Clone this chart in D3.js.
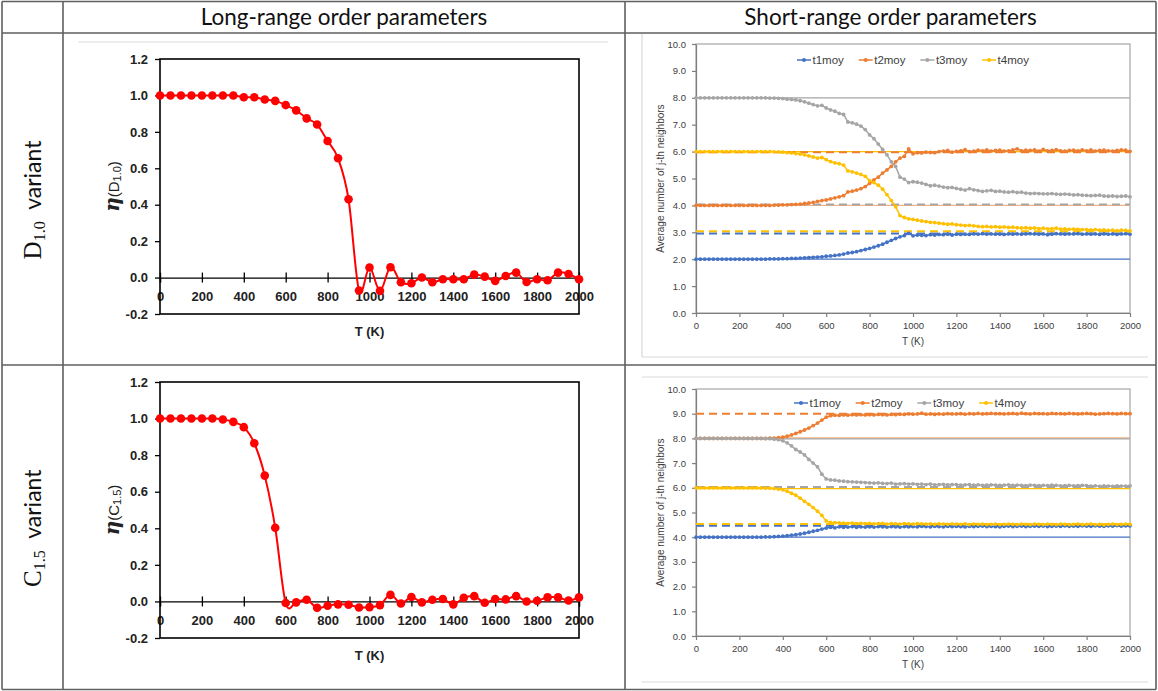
<!DOCTYPE html>
<html>
<head>
<meta charset="utf-8">
<script src="https://cdn.jsdelivr.net/npm/d3@7"></script>
<style>
  body { margin: 0; background: #fff; }
  svg { display: block; }
</style>
</head>
<body>
<svg id="svg"></svg>
<script>
// ---- data ----
const headers = ["Long-range order parameters", "Short-range order parameters"];
const rowLetters = ["D", "C"];
const rowSubs = ["1.0", "1.5"];

const etaTemps = [0, 50, 100, 150, 200, 250, 300, 350, 400, 450, 500, 550, 600, 650, 700, 750, 800, 850, 900, 950,
  1000, 1050, 1100, 1150, 1200, 1250, 1300, 1350, 1400, 1450, 1500, 1550, 1600, 1650, 1700, 1750, 1800, 1850, 1900, 1950, 2000];
const etaD10 = [1.0, 1.0, 1.0, 1.0, 1.0, 1.0, 1.0, 1.0, 0.99, 0.99, 0.978, 0.97, 0.947, 0.918, 0.874, 0.84, 0.75, 0.655, 0.43, -0.071,
  0.055, -0.073, 0.057, -0.026, -0.031, 0.0, -0.026, -0.009, -0.009, -0.009, 0.016, 0.005, -0.018, 0.009, 0.027, -0.024, -0.009, -0.015, 0.027, 0.02, -0.009];
const etaC15 = [1.0, 1.0, 1.0, 1.0, 1.0, 1.0, 0.995, 0.982, 0.953, 0.865, 0.688, 0.403, -0.009, -0.005, 0.009, -0.035, -0.024, -0.016, -0.018, -0.033,
  -0.031, -0.02, 0.036, -0.011, 0.024, -0.005, 0.009, 0.013, -0.016, 0.02, 0.029, -0.007, 0.013, 0.011, 0.029, 0.0, 0.004, 0.022, 0.022, 0.005, 0.022];
const etaTicks = [-0.2, 0, 0.2, 0.4, 0.6, 0.8, 1.0, 1.2];
const tempTicks = [0, 200, 400, 600, 800, 1000, 1200, 1400, 1600, 1800, 2000];

const nbTemps = [
  0, 20, 40, 60, 80, 100, 120, 140, 160, 180,
  200, 220, 240, 260, 280, 300, 320, 340, 360, 380,
  400, 420, 440, 460, 480, 500, 520, 540, 560, 580,
  600, 620, 640, 660, 680, 700, 720, 740, 760, 780,
  800, 820, 840, 860, 880, 900, 920, 940, 960, 980,
  1000, 1020, 1040, 1060, 1080, 1100, 1120, 1140, 1160, 1180,
  1200, 1220, 1240, 1260, 1280, 1300, 1320, 1340, 1360, 1380,
  1400, 1420, 1440, 1460, 1480, 1500, 1520, 1540, 1560, 1580,
  1600, 1620, 1640, 1660, 1680, 1700, 1720, 1740, 1760, 1780,
  1800, 1820, 1840, 1860, 1880, 1900, 1920, 1940, 1960, 1980,
  2000];
const seriesNames = ["t1moy", "t2moy", "t3moy", "t4moy"];

const d10T1 = [
  2.00, 2.00, 2.00, 2.00, 2.00, 2.00, 2.00, 2.00, 2.00, 2.00,
  2.00, 2.00, 2.00, 2.00, 2.00, 2.00, 2.00, 2.01, 2.01, 2.01,
  2.02, 2.02, 2.03, 2.03, 2.04, 2.05, 2.06, 2.07, 2.08, 2.09,
  2.11, 2.12, 2.14, 2.16, 2.19, 2.23, 2.25, 2.28, 2.32, 2.36,
  2.40, 2.45, 2.50, 2.56, 2.63, 2.70, 2.77, 2.83, 2.88, 2.96,
  2.87, 2.90, 2.89, 2.88, 2.91, 2.90, 2.92, 2.91, 2.93, 2.90,
  2.93, 2.92, 2.93, 2.92, 2.94, 2.93, 2.95, 2.93, 2.94, 2.93,
  2.93, 2.92, 2.94, 2.93, 2.94, 2.93, 2.94, 2.95, 2.94, 2.93,
  2.94, 2.91, 2.93, 2.95, 2.94, 2.93, 2.94, 2.94, 2.95, 2.93,
  2.94, 2.93, 2.94, 2.92, 2.94, 2.93, 2.94, 2.92, 2.94, 2.95,
  2.93];
const d10T2 = [
  4.00, 4.00, 4.00, 4.00, 4.00, 4.00, 4.00, 4.00, 4.00, 4.00,
  4.00, 4.00, 4.00, 4.00, 4.00, 4.00, 4.00, 4.00, 4.01, 4.01,
  4.02, 4.02, 4.03, 4.04, 4.05, 4.07, 4.09, 4.11, 4.15, 4.18,
  4.20, 4.24, 4.28, 4.32, 4.36, 4.50, 4.53, 4.57, 4.62, 4.70,
  4.82, 4.95, 5.05, 5.20, 5.32, 5.45, 5.62, 5.76, 5.82, 6.10,
  5.92, 5.96, 5.95, 5.98, 5.97, 5.96, 6.00, 6.02, 6.04, 5.98,
  6.01, 6.03, 6.07, 6.00, 6.02, 6.05, 6.03, 6.06, 6.02, 6.04,
  6.05, 6.02, 6.03, 6.06, 6.10, 6.03, 6.05, 6.04, 6.06, 6.02,
  6.08, 6.03, 6.04, 6.07, 6.03, 6.02, 6.04, 6.05, 6.03, 6.06,
  6.03, 6.06, 6.02, 6.04, 6.05, 6.03, 6.02, 6.04, 6.06, 6.05,
  6.01];
const d10T3 = [
  8.00, 8.00, 8.00, 8.00, 8.00, 8.00, 8.00, 8.00, 8.00, 8.00,
  8.00, 8.00, 8.00, 8.00, 8.00, 8.00, 8.00, 7.99, 7.99, 7.98,
  7.97, 7.95, 7.94, 7.92, 7.89, 7.85, 7.80, 7.75, 7.70, 7.72,
  7.62, 7.55, 7.50, 7.42, 7.38, 7.10, 7.07, 7.02, 6.95, 6.82,
  6.62, 6.48, 6.28, 6.08, 5.88, 5.62, 5.45, 5.05, 4.98, 4.85,
  4.88, 4.86, 4.83, 4.78, 4.73, 4.75, 4.72, 4.68, 4.66, 4.67,
  4.63, 4.60, 4.57, 4.62, 4.58, 4.55, 4.52, 4.54, 4.56, 4.52,
  4.53, 4.50, 4.49, 4.51, 4.48, 4.49, 4.46, 4.44, 4.45, 4.44,
  4.43, 4.43, 4.44, 4.42, 4.41, 4.42, 4.41, 4.39, 4.40, 4.38,
  4.37, 4.36, 4.37, 4.38, 4.35, 4.34, 4.35, 4.33, 4.34, 4.35,
  4.32];
const d10T4 = [
  6.00, 6.00, 6.00, 6.00, 6.00, 6.00, 6.00, 6.00, 6.00, 6.00,
  6.00, 6.00, 6.00, 6.00, 6.00, 6.00, 6.00, 6.00, 5.99, 5.99,
  5.98, 5.96, 5.95, 5.93, 5.91, 5.88, 5.84, 5.80, 5.76, 5.78,
  5.70, 5.63, 5.58, 5.55, 5.50, 5.28, 5.25, 5.20, 5.15, 5.08,
  4.92, 4.85, 4.75, 4.60, 4.40, 4.18, 3.95, 3.62, 3.55, 3.50,
  3.48, 3.45, 3.42, 3.40, 3.37, 3.36, 3.34, 3.32, 3.30, 3.31,
  3.28, 3.27, 3.25, 3.26, 3.24, 3.22, 3.21, 3.22, 3.20, 3.21,
  3.19, 3.20, 3.18, 3.19, 3.17, 3.16, 3.17, 3.15, 3.16, 3.14,
  3.15, 3.13, 3.14, 3.15, 3.12, 3.13, 3.11, 3.12, 3.11, 3.10,
  3.10, 3.09, 3.10, 3.08, 3.09, 3.07, 3.08, 3.06, 3.08, 3.07,
  3.05];

const c15T1 = [
  4.00, 4.00, 4.00, 4.00, 4.00, 4.00, 4.00, 4.00, 4.00, 4.00,
  4.00, 4.00, 4.00, 4.00, 4.00, 4.00, 4.01, 4.01, 4.02, 4.03,
  4.04, 4.06, 4.08, 4.10, 4.13, 4.16, 4.20, 4.24, 4.28, 4.33,
  4.37, 4.40, 4.38, 4.42, 4.40, 4.41, 4.43, 4.40, 4.42, 4.41,
  4.42, 4.41, 4.43, 4.42, 4.41, 4.43, 4.42, 4.41, 4.43, 4.42,
  4.43, 4.42, 4.44, 4.43, 4.42, 4.44, 4.43, 4.42, 4.44, 4.43,
  4.44, 4.43, 4.42, 4.44, 4.43, 4.44, 4.45, 4.43, 4.44, 4.43,
  4.42, 4.44, 4.45, 4.43, 4.44, 4.45, 4.43, 4.44, 4.45, 4.44,
  4.45, 4.43, 4.44, 4.45, 4.44, 4.46, 4.44, 4.45, 4.44, 4.46,
  4.45, 4.44, 4.46, 4.45, 4.44, 4.46, 4.45, 4.47, 4.45, 4.46,
  4.46];
const c15T2 = [
  8.00, 8.00, 8.00, 8.00, 8.00, 8.00, 8.00, 8.00, 8.00, 8.00,
  8.00, 8.00, 8.00, 8.00, 8.00, 8.00, 8.00, 8.01, 8.01, 8.03,
  8.05, 8.09, 8.14, 8.20, 8.27, 8.34, 8.42, 8.52, 8.62, 8.74,
  8.86, 8.92, 8.94, 8.93, 8.95, 8.94, 8.96, 8.95, 8.96, 8.95,
  8.96, 8.95, 8.97, 8.96, 8.95, 8.97, 8.96, 8.98, 8.97, 8.99,
  8.98, 8.99, 9.02, 8.98, 8.99, 8.97, 8.99, 8.98, 9.00, 8.99,
  8.99, 9.00, 8.98, 9.00, 8.99, 9.01, 8.99, 9.00, 9.01, 9.00,
  9.00, 8.99, 9.00, 9.01, 8.99, 9.02, 9.00, 8.99, 9.01, 9.00,
  9.00, 8.99, 9.01, 9.00, 9.00, 8.99, 9.01, 9.00, 8.99, 9.00,
  9.01, 9.00, 8.98, 8.99, 9.00, 9.01, 9.00, 8.99, 9.01, 9.00,
  9.00];
const c15T3 = [
  8.00, 8.00, 8.00, 8.00, 8.00, 8.00, 8.00, 8.00, 8.00, 8.00,
  8.00, 8.00, 8.00, 8.00, 8.00, 8.00, 7.99, 7.99, 7.97, 7.95,
  7.90, 7.82, 7.70, 7.55, 7.45, 7.33, 7.15, 7.00, 6.85, 6.55,
  6.36, 6.32, 6.31, 6.28, 6.27, 6.25, 6.24, 6.23, 6.22, 6.21,
  6.20, 6.19, 6.20, 6.18, 6.17, 6.19, 6.15, 6.16, 6.17, 6.15,
  6.16, 6.14, 6.15, 6.13, 6.15, 6.12, 6.13, 6.14, 6.12, 6.13,
  6.13, 6.11, 6.12, 6.13, 6.11, 6.12, 6.10, 6.11, 6.12, 6.11,
  6.10, 6.11, 6.12, 6.10, 6.11, 6.10, 6.09, 6.11, 6.10, 6.09,
  6.10, 6.09, 6.11, 6.10, 6.08, 6.09, 6.10, 6.08, 6.09, 6.10,
  6.09, 6.07, 6.08, 6.06, 6.08, 6.07, 6.06, 6.08, 6.07, 6.07,
  6.08];
const c15T4 = [
  6.00, 6.00, 6.00, 6.00, 6.00, 6.00, 6.00, 6.00, 6.00, 6.00,
  6.00, 6.00, 6.00, 6.00, 6.00, 6.00, 5.99, 5.99, 5.97, 5.95,
  5.92, 5.86, 5.78, 5.70, 5.58, 5.45, 5.33, 5.20, 5.05, 4.88,
  4.66, 4.60, 4.59, 4.58, 4.57, 4.56, 4.57, 4.55, 4.56, 4.55,
  4.56, 4.54, 4.55, 4.56, 4.53, 4.55, 4.54, 4.53, 4.55, 4.54,
  4.53, 4.55, 4.54, 4.53, 4.54, 4.52, 4.54, 4.53, 4.52, 4.54,
  4.53, 4.52, 4.54, 4.51, 4.53, 4.52, 4.53, 4.51, 4.52, 4.53,
  4.51, 4.52, 4.53, 4.52, 4.51, 4.53, 4.52, 4.51, 4.53, 4.52,
  4.51, 4.53, 4.52, 4.51, 4.53, 4.52, 4.51, 4.52, 4.53, 4.51,
  4.52, 4.53, 4.51, 4.52, 4.50, 4.52, 4.53, 4.51, 4.52, 4.53,
  4.52];

// reference levels, one per series (t1..t4)
const d10Solid = [2.0, 4.0, 8.0, 6.0];
const d10Dashed = [2.96, 5.98, 4.03, 3.04];
const c15Solid = [4.0, 8.02, 7.98, 5.97];
const c15Dashed = [4.46, 9.0, 6.03, 4.53];
const nbTicks = [0, 1, 2, 3, 4, 5, 6, 7, 8, 9, 10];

// ---- drawing ----
const W = 1158, H = 691;
const svg = d3.select("#svg").attr("width", W).attr("height", H);
svg.append("rect").attr("width", W).attr("height", H).attr("fill", "#fff");

const colors = ["#4472C4", "#ED7D31", "#A5A5A5", "#FFC000"];
const solidColors = ["#4472C4", "#F4B183", "#A5A5A5", "#FFC000"];
const sans = "Liberation Sans, Arial, sans-serif";

function drawTable() {
  const g = svg.append("g").attr("stroke", "#5f5f5f").attr("stroke-width", 1.6);
  const xs = [2, 63, 625, 1156];
  const ys = [1.5, 33, 365, 689.5];
  xs.forEach(x => {
    g.append("line").attr("x1", x).attr("x2", x).attr("y1", ys[0]).attr("y2", ys[3]);
  });
  ys.forEach(y => {
    g.append("line").attr("x1", xs[0]).attr("x2", xs[3]).attr("y1", y).attr("y2", y);
  });

  headers.forEach((h, i) => {
    svg.append("text")
      .attr("x", (xs[i + 1] + xs[i + 2]) / 2)
      .attr("y", 24.5)
      .attr("text-anchor", "middle")
      .attr("font-family", "Lato, sans-serif")
      .attr("font-size", 22.5)
      .attr("fill", "#111")
      .text(h);
  });

  rowLetters.forEach((l, i) => {
    const cy = (ys[i + 1] + ys[i + 2]) / 2 + 1;
    const t = svg.append("text")
      .attr("transform", `translate(41,${cy}) rotate(-90)`)
      .attr("text-anchor", "middle")
      .attr("fill", "#111");
    t.append("tspan").attr("font-family", "Liberation Serif, serif").attr("font-size", 25).text(l);
    t.append("tspan").attr("font-family", "Liberation Serif, serif").attr("font-size", 16).attr("dy", 4).text(rowSubs[i]);
    t.append("tspan").attr("font-family", "Lato, sans-serif").attr("font-size", 23).attr("dy", -4).text("\u2002variant");
  });
}

function drawEtaChart(box, values, letter, sub) {
  const x = d3.scaleLinear().domain([0, 2000]).range([box.x0, box.x1]);
  const y = d3.scaleLinear().domain([-0.2, 1.2]).range([box.y1, box.y0]);
  const g = svg.append("g");

  // y axis
  const ya = g.append("g")
    .attr("transform", `translate(${box.x0},0)`)
    .call(d3.axisLeft(y).tickValues(etaTicks).tickFormat(d => d.toFixed(1)).tickSize(5).tickPadding(7));
  ya.select(".domain").remove();
  ya.selectAll(".tick line").attr("stroke", "#000").attr("stroke-width", 1.3);
  ya.selectAll("text").attr("font-family", sans).attr("font-size", 13).attr("font-weight", "bold").attr("fill", "#222");

  // x axis sits at eta = 0
  const xa = g.append("g")
    .attr("transform", `translate(0,${y(0)})`)
    .call(d3.axisBottom(x).tickValues(tempTicks).tickFormat(d => String(d)).tickSize(5).tickPadding(9));
  xa.select(".domain").attr("stroke", "#000").attr("stroke-width", 1.3);
  xa.selectAll(".tick line").attr("y1", -5).attr("stroke", "#000").attr("stroke-width", 1.3);
  xa.selectAll("text").attr("font-family", sans).attr("font-size", 13).attr("font-weight", "bold").attr("fill", "#222");

  // plot box
  g.append("rect")
    .attr("x", box.x0).attr("y", box.y0)
    .attr("width", box.x1 - box.x0).attr("height", box.y1 - box.y0)
    .attr("fill", "none").attr("stroke", "#000").attr("stroke-width", 1.6);

  const pts = etaTemps.map((t, i) => [t, values[i]]);
  g.append("path")
    .datum(pts)
    .attr("fill", "none")
    .attr("stroke", "#FF0000")
    .attr("stroke-width", 2)
    .attr("d", d3.line().x(d => x(d[0])).y(d => y(d[1])).curve(d3.curveCatmullRom.alpha(0)));
  g.selectAll(".dot").data(pts).join("circle")
    .attr("cx", d => x(d[0])).attr("cy", d => y(d[1]))
    .attr("r", 4.3).attr("fill", "#FF0000");

  // axis titles
  g.append("text")
    .attr("x", (box.x0 + box.x1) / 2).attr("y", y(-0.2) + 22)
    .attr("text-anchor", "middle")
    .attr("font-family", sans).attr("font-size", 13).attr("font-weight", "bold").attr("fill", "#222")
    .text("T (K)");

  const t = g.append("text")
    .attr("transform", `translate(${box.x0 - 41},${(box.y0 + box.y1) / 2}) rotate(-90)`)
    .attr("text-anchor", "middle")
    .attr("fill", "#222");
  t.append("tspan").attr("font-family", "DejaVu Serif, serif").attr("font-weight", "bold")
    .attr("font-style", "italic").attr("font-size", 20).text("\u03B7");
  t.append("tspan").attr("font-family", sans).attr("font-size", 15).text("(" + letter);
  t.append("tspan").attr("font-family", sans).attr("font-size", 11).attr("dy", 1.5).text(sub);
  t.append("tspan").attr("font-family", sans).attr("font-size", 15).attr("dy", -1.5).text(")");
}

function drawNbChart(box, series, solids, dashes, legend) {
  const x = d3.scaleLinear().domain([0, 2000]).range([box.x0, box.x1]);
  const y = d3.scaleLinear().domain([0, 10]).range([box.y1, box.y0]);
  const g = svg.append("g");

  g.append("rect")
    .attr("x", box.x0).attr("y", box.y0)
    .attr("width", box.x1 - box.x0).attr("height", box.y1 - box.y0)
    .attr("fill", "none").attr("stroke", "#a6a6a6").attr("stroke-width", 1.2);

  const ya = g.append("g")
    .attr("transform", `translate(${box.x0},0)`)
    .call(d3.axisLeft(y).tickValues(nbTicks).tickFormat(d => d.toFixed(1)).tickSize(4).tickPadding(6).tickSizeOuter(0));
  const xa = g.append("g")
    .attr("transform", `translate(0,${box.y1})`)
    .call(d3.axisBottom(x).tickValues(tempTicks).tickFormat(d => String(d)).tickSize(4).tickPadding(5).tickSizeOuter(0));
  [ya, xa].forEach(a => {
    a.selectAll(".domain, .tick line").attr("stroke", "#7f7f7f").attr("stroke-width", 1.2);
    a.selectAll("text").attr("font-family", sans).attr("font-size", 9.5).attr("fill", "#404040");
  });

  // reference levels
  solids.forEach((v, i) => {
    g.append("line")
      .attr("x1", x(0)).attr("x2", x(2000)).attr("y1", y(v)).attr("y2", y(v))
      .attr("stroke", solidColors[i]).attr("stroke-width", 1.3);
  });
  dashes.forEach((v, i) => {
    g.append("line")
      .attr("x1", x(0)).attr("x2", x(2000)).attr("y1", y(v)).attr("y2", y(v))
      .attr("stroke", colors[i]).attr("stroke-width", 2).attr("stroke-dasharray", "8,5");
  });

  series.forEach((vals, i) => {
    const pts = nbTemps.map((t, j) => [t, vals[j]]);
    g.append("path")
      .datum(pts)
      .attr("fill", "none")
      .attr("stroke", colors[i])
      .attr("stroke-width", 1.5)
      .attr("d", d3.line().x(d => x(d[0])).y(d => y(d[1])));
    g.append("g").selectAll("circle").data(pts).join("circle")
      .attr("cx", d => x(d[0])).attr("cy", d => y(d[1]))
      .attr("r", 1.9).attr("fill", colors[i]);
  });

  // legend
  seriesNames.forEach((name, i) => {
    const lx = legend.x + i * 61.7;
    g.append("line")
      .attr("x1", lx).attr("x2", lx + 14).attr("y1", legend.y).attr("y2", legend.y)
      .attr("stroke", colors[i]).attr("stroke-width", 1.5);
    g.append("circle").attr("cx", lx + 7).attr("cy", legend.y).attr("r", 2).attr("fill", colors[i]);
    g.append("text")
      .attr("x", lx + 15.5).attr("y", legend.y + 4)
      .attr("font-family", sans).attr("font-size", 11.5).attr("fill", "#404040")
      .text(name);
  });

  g.append("text")
    .attr("x", (box.x0 + box.x1) / 2).attr("y", box.y1 + 32)
    .attr("text-anchor", "middle")
    .attr("font-family", sans).attr("font-size", 10).attr("fill", "#404040")
    .text("T  (K)");
  g.append("text")
    .attr("transform", `translate(${box.x0 - 32},${(box.y0 + box.y1) / 2}) rotate(-90)`)
    .attr("text-anchor", "middle")
    .attr("font-family", sans).attr("font-size", 10).attr("fill", "#404040")
    .text("Average number of j-th neighbors");
}

// chart frames (light grey)
function drawFrames() {
  const g = svg.append("g").attr("stroke", "#d9d9d9").attr("stroke-width", 1.2);
  g.append("line").attr("x1", 78).attr("x2", 608).attr("y1", 42).attr("y2", 42);
  g.append("line").attr("x1", 642).attr("x2", 642).attr("y1", 34).attr("y2", 357);
  g.append("line").attr("x1", 642).attr("x2", 1148).attr("y1", 357).attr("y2", 357);
  g.append("line").attr("x1", 642).attr("x2", 1148).attr("y1", 377).attr("y2", 377);
  g.append("line").attr("x1", 642).attr("x2", 1148).attr("y1", 682).attr("y2", 682);
}

drawFrames();
drawEtaChart({ x0: 160, x1: 579, y0: 59, y1: 314 }, etaD10, "D", "1.0");
drawEtaChart({ x0: 160, x1: 579, y0: 382, y1: 638 }, etaC15, "C", "1.5");
drawNbChart({ x0: 696, x1: 1130, y0: 44, y1: 313 }, [d10T1, d10T2, d10T3, d10T4], d10Solid, d10Dashed, { x: 797, y: 60 });
drawNbChart({ x0: 696, x1: 1130, y0: 389, y1: 636 }, [c15T1, c15T2, c15T3, c15T4], c15Solid, c15Dashed, { x: 794, y: 403 });
drawTable();
</script>
</body>
</html>
